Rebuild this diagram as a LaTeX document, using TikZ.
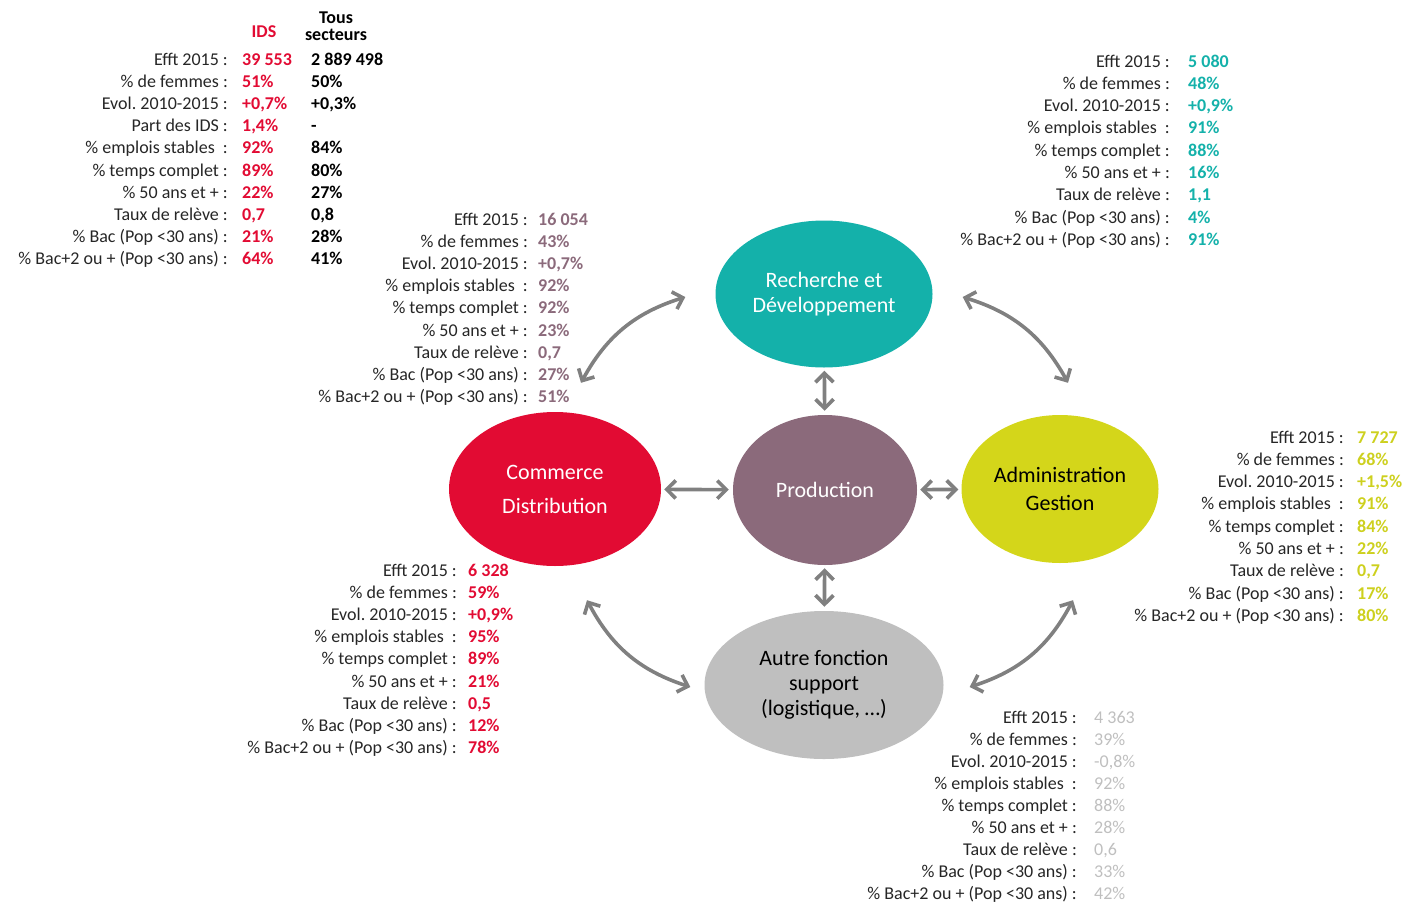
\documentclass[tikz,border=0pt]{standalone}
\usepackage{fontspec}
\setmainfont{Carlito}
\usepackage{tikz}
\usetikzlibrary{shapes.geometric,arrows.meta,positioning}
\frenchspacing

\definecolor{rdcol}{HTML}{14B1AA}
\definecolor{cdcol}{HTML}{E20B33}
\definecolor{prodcol}{HTML}{8B6A7B}
\definecolor{admcol}{HTML}{D4D61A}
\definecolor{admtxt}{HTML}{CDD01E}
\definecolor{autrecol}{HTML}{BFBFBF}
\definecolor{labcol}{HTML}{262626}
\definecolor{arrcol}{HTML}{808080}

\newcommand{\statlabels}{Efft 2015 :, \% de femmes :, Evol.\ 2010-2015 :, \% emplois stables\ \ :, \% temps complet :, \% 50 ans et + :, Taux de relève :, \% Bac (Pop <30 ans) :, \% Bac+2 ou + (Pop <30 ans) :}

\begin{document}
\begin{tikzpicture}[
			x=1pt, y=-1pt,
			lab/.style={anchor=base east, inner sep=0pt, text=labcol, font=\fontsize{18}{22}\selectfont},
			val/.style={anchor=base west, inner sep=0pt, font=\fontsize{18}{22}\selectfont\bfseries},
			bubble/.style={ellipse, inner sep=0pt, align=center, font=\fontsize{22}{25}\selectfont},
			link/.style={draw=arrcol, line width=3.6pt, {Straight Barb[length=9pt,width=18pt]}-{Straight Barb[length=9pt,width=18pt]}}
			]

			\useasboundingbox (0,0) rectangle (1405,905);

			% les fonctions
			\node[bubble, fill=rdcol, text=white, minimum width=217pt, minimum height=147pt] (rd) at (824,294) {Recherche et\\Développement};
			\node[bubble, fill=cdcol, text=white, minimum width=212pt, minimum height=154pt, font=\fontsize{22}{34}\selectfont] (cd) at (555,489) {Commerce\\Distribution};
			\node[bubble, fill=prodcol, text=white, minimum width=184pt, minimum height=150pt] (prod) at (825,490) {Production};
			\node[bubble, fill=admcol, minimum width=197pt, minimum height=148pt, font=\fontsize{22}{28}\selectfont] (adm) at (1060,489) {Administration\\Gestion};
			\node[bubble, fill=autrecol, minimum width=239pt, minimum height=148pt] (autre) at (824,685) {Autre fonction\\support\\(logistique, …)};

			% les liens
			\draw[link, shorten <=3pt, shorten >=4pt] (rd) -- (prod);
			\draw[link, shorten <=3pt, shorten >=4pt] (cd) -- (prod);
			\draw[link, shorten <=3pt, shorten >=3pt] (prod) -- (adm);
			\draw[link, shorten <=3pt, shorten >=4pt] (prod) -- (autre);
			\draw[link] ([xshift=-30pt,yshift=-3pt]rd.west) to[bend right=22] ([xshift=26pt,yshift=29pt]cd.north);
			\draw[link] ([xshift=30pt,yshift=-3pt]rd.east) to[bend left=22] ([xshift=8pt,yshift=32pt]adm.north);
			\draw[link] ([xshift=32pt,yshift=-34pt]cd.south) to[bend right=22] ([xshift=-14pt,yshift=-2pt]autre.west);
			\draw[link] ([xshift=13pt,yshift=-37pt]adm.south) to[bend left=22] ([xshift=26pt,yshift=-2pt]autre.east);

			% IDS / tous secteurs
			\node[font=\fontsize{18}{22}\selectfont\bfseries, text=cdcol] (idshead) at (264,32) {IDS};
			\node[font=\fontsize{18}{17}\selectfont\bfseries, align=center] (toushead) at (336,26) {Tous\\secteurs};
			\foreach \l [count=\i] in {Efft 2015 :, \% de femmes :, Evol.\ 2010-2015 :, Part des IDS :, \% emplois stables\ \ :, \% temps complet :, \% 50 ans et + :, Taux de relève :, \% Bac (Pop <30 ans) :, \% Bac+2 ou + (Pop <30 ans) :}
				\node[lab] (idsl\i) at (228,{65+22.2*(\i-1)}) {\l};
			\foreach \v [count=\i] in {39 553, 51\%, {+0,7\%}, {1,4\%}, 92\%, 89\%, 22\%, {0,7}, 21\%, 64\%}
				\node[val, text=cdcol] (idsv\i) at (242,{65+22.2*(\i-1)}) {\v};
			\foreach \v [count=\i] in {2 889 498, 50\%, {+0,3\%}, -, 84\%, 80\%, 27\%, {0,8}, 28\%, 41\%}
				\node[val] (tousv\i) at (311,{65+22.2*(\i-1)}) {\v};

			% recherche et developpement
			\foreach \l [count=\i] in \statlabels
				\node[lab] (rdl\i) at (1170,{67+22.3*(\i-1)}) {\l};
			\foreach \v [count=\i] in {5 080, 48\%, {+0,9\%}, 91\%, 88\%, 16\%, {1,1}, 4\%, 91\%}
				\node[val, text=rdcol] (rdv\i) at (1188,{67+22.3*(\i-1)}) {\v};

			% production
			\foreach \l [count=\i] in \statlabels
				\node[lab] (prodl\i) at (528,{225+22.2*(\i-1)}) {\l};
			\foreach \v [count=\i] in {16 054, 43\%, {+0,7\%}, 92\%, 92\%, 23\%, {0,7}, 27\%, 51\%}
				\node[val, text=prodcol] (prodv\i) at (538,{225+22.2*(\i-1)}) {\v};

			% commerce
			\foreach \l [count=\i] in \statlabels
				\node[lab] (cdl\i) at (457,{576+22.2*(\i-1)}) {\l};
			\foreach \v [count=\i] in {6 328, 59\%, {+0,9\%}, 95\%, 89\%, 21\%, {0,5}, 12\%, 78\%}
				\node[val, text=cdcol] (cdv\i) at (468,{576+22.2*(\i-1)}) {\v};

			% administration
			\foreach \l [count=\i] in \statlabels
				\node[lab] (adml\i) at (1344,{443+22.3*(\i-1)}) {\l};
			\foreach \v [count=\i] in {7 727, 68\%, {+1,5\%}, 91\%, 84\%, 22\%, {0,7}, 17\%, 80\%}
				\node[val, text=admtxt] (admv\i) at (1357,{443+22.3*(\i-1)}) {\v};

			% autre fonction
			\foreach \l [count=\i] in \statlabels
				\node[lab] (autrel\i) at (1077,{723+22.1*(\i-1)}) {\l};
			\foreach \v [count=\i] in {4 363, 39\%, {-0,8\%}, 92\%, 88\%, 28\%, {0,6}, 33\%, 42\%}
				\node[val, text=autrecol, font=\fontsize{18}{22}\selectfont] (autrev\i) at (1094,{723+22.1*(\i-1)}) {\v};

		\end{tikzpicture}
\end{document}
